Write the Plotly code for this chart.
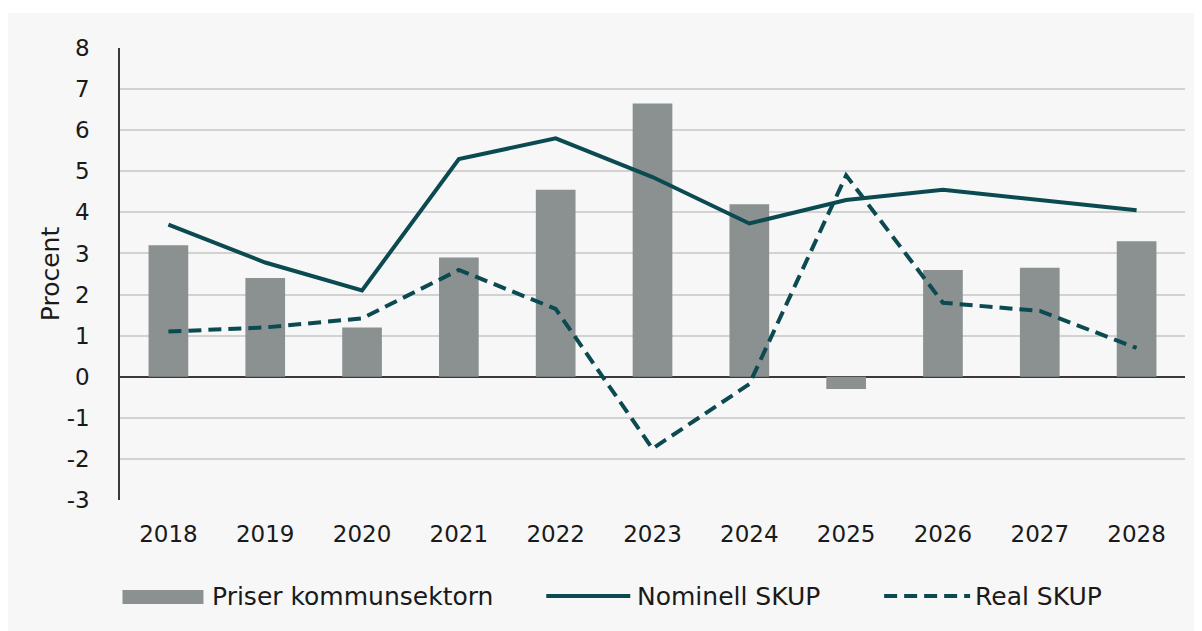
import plotly.graph_objects as go

years = ["2018", "2019", "2020", "2021", "2022", "2023", "2024", "2025", "2026", "2027", "2028"]
priser = [3.2, 2.4, 1.2, 2.9, 4.55, 6.65, 4.2, -0.3, 2.6, 2.65, 3.3]
nominell = [3.7, 2.78, 2.1, 5.3, 5.8, 4.86, 3.73, 4.3, 4.55, 4.3, 4.05]
real = [1.1, 1.2, 1.42, 2.6, 1.65, -1.75, -0.18, 4.9, 1.8, 1.6, 0.7]
y_ticks = [8, 7, 6, 5, 4, 3, 2, 1, 0, -1, -2, -3]
legend_names = ["Priser kommunsektorn", "Nominell SKUP", "Real SKUP"]

BAR_C = "#8b9191"
LINE_C = "#0b4a50"
BG = "#f7f7f7"
TXT = "#1a1a1a"
FONT = "DejaVu Sans, Arial, sans-serif"

OFF = 8  # page body margin
W, H = 1202 - OFF, 631 - OFF
L, T = 119.5 - OFF, 48 - OFF
R = W - (1185 - OFF)
B = H - (500 - OFF)
PW, PH = W - L - R, H - T - B


def px(x_abs):
    return (x_abs - OFF - L) / PW


def py(y_abs):
    return (H - B - (y_abs - OFF)) / PH


DASH = "13px,7px"

fig = go.Figure()
fig.add_trace(go.Bar(x=years, y=priser, name=legend_names[0], marker=dict(color=BAR_C, line=dict(width=0)),
                     width=0.41, showlegend=False))
fig.add_trace(go.Scatter(x=years, y=nominell, name=legend_names[1], mode="lines",
                         line=dict(color=LINE_C, width=4), showlegend=False))
fig.add_trace(go.Scatter(x=years, y=real, name=legend_names[2], mode="lines",
                         line=dict(color=LINE_C, width=4, dash=DASH), showlegend=False))

shapes = [
    dict(type="rect", xref="paper", yref="paper", x0=px(0), x1=px(1300), y0=py(13), y1=py(700),
         fillcolor=BG, line=dict(width=0), layer="below"),
    dict(type="rect", xref="paper", yref="paper", x0=px(122), x1=px(203), y0=py(590), y1=py(604),
         fillcolor=BAR_C, line=dict(width=0)),
    dict(type="line", xref="paper", yref="paper", x0=px(546), x1=px(630), y0=py(596), y1=py(596),
         line=dict(color=LINE_C, width=4)),
    dict(type="line", xref="paper", yref="paper", x0=px(884), x1=px(970), y0=py(596), y1=py(596),
         line=dict(color=LINE_C, width=4, dash=DASH)),
]

annotations = []
for name, xpix in zip(legend_names, [210, 635, 973]):
    annotations.append(dict(text=name, xref="paper", yref="paper", x=px(xpix), y=py(596),
                            xanchor="left", yanchor="middle", showarrow=False,
                            font=dict(family=FONT, size=25, color=TXT)))

fig.update_layout(
    width=W, height=H,
    margin=dict(l=L, r=R, t=T, b=B, pad=0),
    paper_bgcolor="white",
    plot_bgcolor=BG,
    font=dict(family=FONT, color=TXT),
    shapes=shapes,
    annotations=annotations,
    showlegend=False,
    xaxis=dict(type="category", showgrid=False, showline=False, ticks="",
               tickfont=dict(size=23, color=TXT), ticklabelstandoff=18),
    yaxis=dict(range=[-3, 8], tickvals=y_ticks, ticktext=[str(v) for v in y_ticks],
               showgrid=True, gridcolor="#d2d2d2", gridwidth=1.5,
               zeroline=True, zerolinecolor="#3a3a3a", zerolinewidth=1.5,
               showline=True, linecolor="#3a3a3a", linewidth=1.5, ticks="",
               tickfont=dict(size=23, color=TXT), ticklabelstandoff=24,
               title=dict(text="Procent", font=dict(size=25, color=TXT), standoff=0)),
)

fig.write_html("out.html")
